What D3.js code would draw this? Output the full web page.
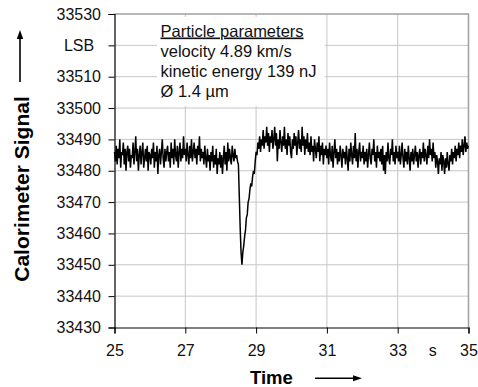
<!DOCTYPE html>
<html><head><meta charset="utf-8">
<script src="https://cdn.jsdelivr.net/npm/d3@7"></script>
<style>
html,body{margin:0;padding:0;background:#fff;}
svg{display:block;font-family:"Liberation Sans",Arial,sans-serif;}
</style></head>
<body>
<svg id="chart" width="478" height="387"></svg>
<script>
// ---- data ----
const timeStart = 25, timeEnd = 35;           // s
const xTicks = [25, 27, 29, 31, 33, 35];
const yTicks = [33430, 33440, 33450, 33460, 33470, 33480, 33490, 33500, 33510, 33520, 33530];
const yTickLabels = ["33430","33440","33450","33460","33470","33480","33490","33500","33510","LSB","33530"];
const infoLines = ["Particle parameters", "velocity 4.89 km/s", "kinetic energy 139 nJ", "Ø 1.4 µm"];
// calorimeter signal, LSB, sampled evenly from 25 s to 35 s
const signal = [
33486,33483,33488,33482,33487,33484,33490,33481,33486,33485,33489,33482,33487,33480,33486,33488,33483,33487,33481,33485,
33484,33489,33482,33486,33491,33483,33487,33480,33485,33488,33482,33486,33489,33481,33484,33487,33483,33488,33480,33486,
33485,33482,33487,33484,33489,33481,33486,33483,33488,33479,33485,33487,33482,33486,33490,33484,33481,33487,33483,33486,
33488,33483,33486,33481,33489,33484,33487,33482,33490,33485,33483,33488,33481,33486,33489,33483,33487,33484,33491,33485,
33487,33483,33489,33485,33482,33488,33484,33490,33483,33486,33489,33484,33487,33482,33488,33485,33491,33483,33487,33484,
33486,33482,33488,33484,33481,33487,33483,33485,33480,33486,33483,33488,33481,33485,33482,33487,33479,33484,33482,33486,
33481,33485,33479,33484,33488,33482,33486,33480,33489,33483,33487,33484,33482,33488,33485,33483,33487,33484,33485,33483,
33482,33472,33462,33454,33450,33454,33456,33459,33461,33465,33466,33470,33471,33474,33476,33475,33478,33480,33479,33483,
33486,33485,33489,33487,33491,33486,33490,33488,33493,33487,33491,33489,33494,33488,33492,33486,33491,33489,33493,33487,
33490,33494,33488,33492,33483,33490,33487,33493,33489,33486,33491,33488,33494,33487,33490,33485,33492,33488,33491,33486,
33484,33490,33487,33492,33488,33491,33485,33489,33493,33487,33490,33486,33494,33488,33491,33485,33490,33487,33492,33486,
33489,33485,33491,33486,33488,33483,33490,33487,33484,33489,33486,33491,33483,33488,33485,33489,33482,33487,33485,33488,
33484,33487,33482,33489,33485,33483,33488,33481,33486,33490,33484,33487,33482,33486,33483,33488,33485,33481,33487,33484,
33486,33482,33488,33484,33480,33487,33483,33489,33485,33482,33488,33484,33492,33483,33487,33481,33486,33489,33483,33486,
33484,33488,33482,33486,33483,33487,33481,33485,33489,33484,33482,33487,33485,33490,33483,33486,33481,33488,33484,33486,
33483,33487,33482,33488,33480,33485,33479,33486,33483,33489,33484,33482,33487,33485,33490,33483,33486,33482,33488,33484,
33486,33483,33488,33482,33485,33489,33484,33481,33487,33483,33486,33482,33488,33484,33480,33486,33483,33487,33482,33485,
33488,33483,33486,33481,33485,33487,33482,33486,33484,33489,33483,33487,33485,33482,33488,33484,33490,33485,33487,33483,
33489,33484,33486,33481,33485,33483,33479,33484,33482,33486,33480,33485,33483,33479,33484,33481,33486,33482,33480,33485,
33483,33487,33482,33486,33484,33488,33483,33487,33485,33489,33484,33488,33486,33490,33485,33488,33491,33486,33489,33487,33488
];

// ---- drawing ----
const svg = d3.select("#chart");
const L = 114.5, R = 468.5, T = 14, B = 327.5;
const x = d3.scaleLinear().domain([timeStart, timeEnd]).range([L, R]);
const y = d3.scaleLinear().domain([33430, 33530]).range([B, T]);
const gridColor = "#c6c6c6";

// gridlines
svg.append("g").selectAll("line.h").data(yTicks.slice(1, -1)).join("line")
  .attr("x1", L).attr("x2", R).attr("y1", d => y(d)).attr("y2", d => y(d))
  .attr("stroke", gridColor).attr("stroke-width", 1);
svg.append("g").selectAll("line.v").data(xTicks.slice(1, -1)).join("line")
  .attr("x1", d => x(d)).attr("x2", d => x(d)).attr("y1", T).attr("y2", B)
  .attr("stroke", gridColor).attr("stroke-width", 1);

// top & right frame
svg.append("path").attr("d", `M${L},${T}H${R}V${B}`)
  .attr("fill", "none").attr("stroke", "#a0a0a0").attr("stroke-width", 1.5);

// info box
svg.append("rect").attr("x", 157).attr("y", 17).attr("width", 168).attr("height", 89).attr("fill", "#fff");
const info = svg.append("g").attr("font-size", "16.5px").attr("fill", "#111");
const infoY = [36.5, 56.7, 76.8, 97.3];
infoLines.forEach((s, i) => {
  info.append("text").attr("x", 160.5).attr("y", infoY[i]).text(s)
    .attr("text-decoration", i === 0 ? "underline" : null);
});

// trace
const n = signal.length;
const dt = (timeEnd - timeStart) / (n - 1);
const line = d3.line().x((d, i) => x(timeStart + i * dt)).y(d => y(d));
svg.append("path").datum(signal).attr("d", line)
  .attr("fill", "none").attr("stroke", "#000").attr("stroke-width", 1.5)
  .attr("stroke-linejoin", "miter");

// y axis
const yAxis = d3.axisLeft(y).tickValues(yTicks).tickSize(6)
  .tickFormat((d, i) => yTickLabels[i]);
const gy = svg.append("g").attr("transform", `translate(${L},0)`).call(yAxis);
gy.select(".domain").attr("stroke", "#000").attr("stroke-width", 1.2);
gy.selectAll(".tick line").attr("stroke", "#000");
gy.selectAll(".tick text").attr("font-size", "16px").attr("fill", "#111")
  .attr("font-family", "Liberation Sans, Arial, sans-serif").attr("x", -13.5);
gy.selectAll(".tick text").filter(d => d === 33520)
  .attr("text-anchor", "middle").attr("x", -35.5);

// x axis
const xAxis = d3.axisBottom(x).tickValues(xTicks).tickSize(6).tickFormat(d3.format("d"));
const gx = svg.append("g").attr("transform", `translate(0,${B})`).call(xAxis);
gx.select(".domain").attr("stroke", "#000").attr("stroke-width", 1.2);
gx.selectAll(".tick line").attr("stroke", "#000");
gx.selectAll(".tick text").attr("font-size", "16px").attr("fill", "#111")
  .attr("font-family", "Liberation Sans, Arial, sans-serif").attr("y", 17.5).attr("dy", "0.71em");
gx.append("text").attr("x", 432.7).attr("y", 17.5).attr("dy", "0.71em")
  .attr("text-anchor", "middle").attr("font-size", "16px").attr("fill", "#111")
  .attr("font-family", "Liberation Sans, Arial, sans-serif").text("s");

// axis titles
svg.append("text").attr("transform", "translate(29,189) rotate(-90)")
  .attr("text-anchor", "middle").attr("font-size", "21px").attr("font-weight", "bold")
  .attr("fill", "#000").text("Calorimeter Signal");
svg.append("text").attr("x", 250).attr("y", 383.5).attr("font-size", "18.5px")
  .attr("font-weight", "bold").attr("fill", "#000").text("Time");

// arrows
svg.append("line").attr("x1", 20).attr("x2", 20).attr("y1", 82).attr("y2", 37)
  .attr("stroke", "#000").attr("stroke-width", 1.6);
svg.append("path").attr("d", "M20,30 L23.2,39 L16.8,39 Z").attr("fill", "#000");
svg.append("line").attr("x1", 315).attr("x2", 355).attr("y1", 378.3).attr("y2", 378.3)
  .attr("stroke", "#000").attr("stroke-width", 1.6);
svg.append("path").attr("d", "M362,378.3 L353,375.3 L353,381.3 Z").attr("fill", "#000");
</script>
</body></html>
